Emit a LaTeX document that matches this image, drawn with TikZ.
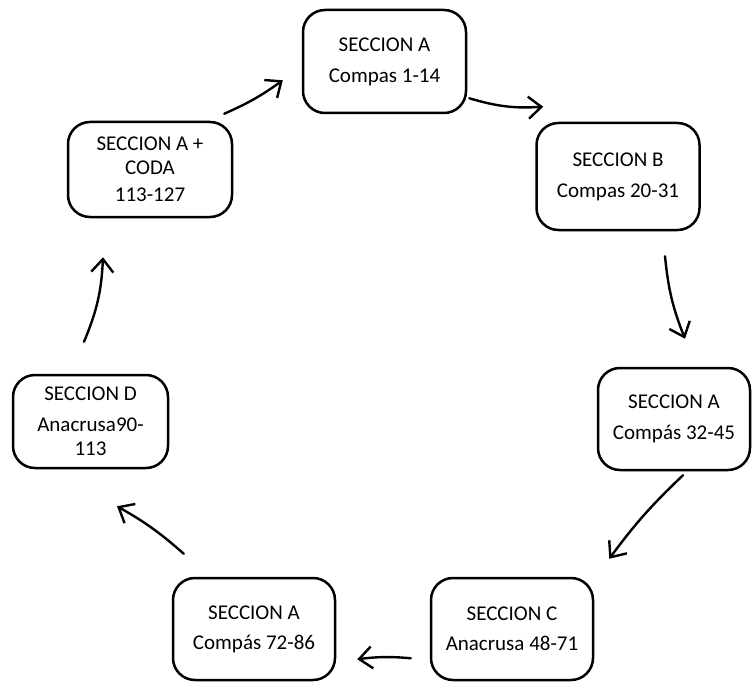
\documentclass[tikz,border=0pt]{standalone}
\usepackage{fontspec}
\setmainfont{Carlito}
\usetikzlibrary{arrows.meta,calc}
\tikzset{
  secbox/.style={
    rounded corners=22pt,
    draw=black,
    line width=2.5pt,
    minimum width=163pt,
    minimum height=103pt,
    align=center,
    inner sep=0pt,
    font=\fontsize{21}{24}\selectfont
  },
  arrow/.style={
    -{Straight Barb[length=13pt,width=22pt]},
    line width=2.4pt,
    line cap=round
  }
}

\begin{document}
\begin{tikzpicture}[x=1pt,y=-1pt]
\useasboundingbox (0,0) rectangle (752,682);
\node[secbox] (top) at (384.5,61.5) {SECCION A\\[7pt]Compas 1-14};
\node[secbox, minimum height=107pt] (secb) at (618,176.5) {SECCION B\\[7pt]Compas 20-31};
\node[secbox, minimum width=152pt, minimum height=102pt] (a32) at (674,419) {SECCION A\\[7pt]Compás 32-45};
\node[secbox, minimum width=162pt, minimum height=102pt] (secc) at (512,629) {SECCION C\\[6pt]Anacrusa 48-71};
\node[secbox, minimum width=162pt, minimum height=102pt] (a72) at (254,629) {SECCION A\\[6pt]Compás 72-86};
\node[secbox, minimum width=155pt, minimum height=93pt] (secd) at (90.5,421.5) {SECCION D\\[7pt]Anacrusa90-\\113};
\node[secbox, minimum width=164pt, minimum height=95pt] (coda) at (150,169.5) {SECCION A +\\CODA\\[3pt]113-127};
% los arcos siguen el ciclo
\draw[arrow] ($(coda.north east)+(-9,-7)$) to[bend right=6] ($(top.south west)+(-19,-34)$);
\draw[arrow] ($(top.south east)+(2,-16)$) to[bend right=10] ($(secb.north west)+(8,-15)$);
\draw[arrow] ($(secb.south)+(47,25)$) to[bend right=8] ($(a32.north)+(11,-28)$);
\draw[arrow] ($(a32.south)+(9,4)$) to[bend right=5] ($(secc.north east)+(15,-18)$);
\draw[arrow] ($(secc.south west)+(-19,-23)$) to[bend right=6] ($(a72.south east)+(21,-22)$);
\draw[arrow] ($(a72.north west)+(12,-23)$) to[bend right=6] ($(secd.south)+(26.5,37)$);
\draw[arrow] ($(secd.north)+(-6.5,-32)$) to[bend right=10] ($(coda.south)+(-47,39)$);
\end{tikzpicture}
\end{document}
